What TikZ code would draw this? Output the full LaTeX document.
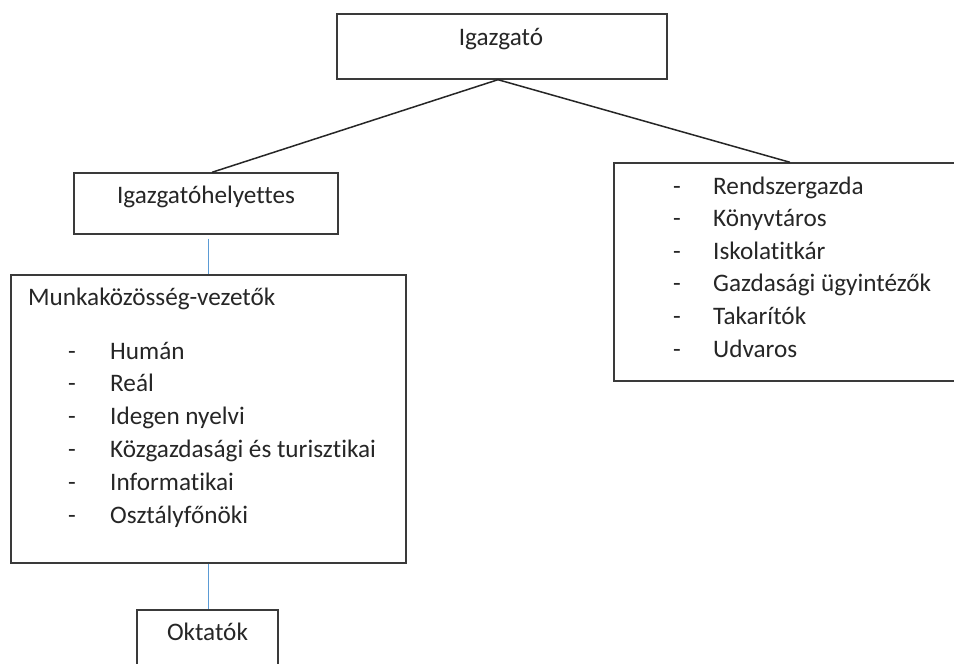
\documentclass[tikz,border=0pt]{standalone}
\usepackage{fontspec}
\setmainfont[Ligatures=NoCommon]{Carlito}
\definecolor{txt}{HTML}{262626}
\definecolor{edge}{HTML}{3A3A3A}
\definecolor{bluelink}{HTML}{5B9BD5}
\begin{document}
\begin{tikzpicture}[x=1pt,y=-1pt,
  box/.style={draw=edge,line width=1.4pt,rectangle,inner sep=0pt,fill=none},
  lbl/.style={inner sep=0pt,anchor=base,text=txt,font=\fontsize{25.2}{30}\selectfont},
  lblw/.style={lbl,anchor=base west},
  blk/.style={draw=black!85,line width=1.5pt},
  blu/.style={draw=bluelink,line width=1pt}]
\useasboundingbox (0,0) rectangle (954,664);
\fill[white] (0,0) rectangle (954,664);
% boxes
\node[box,minimum width=330pt,minimum height=65pt] (igaz) at (502,46.5) {};
\node[box,minimum width=264pt,minimum height=61pt] (hely) at (206,203.5) {};
\node[box,minimum width=395pt,minimum height=288pt] (munka) at (208.5,419) {};
\node[box,minimum width=141pt,minimum height=90pt] (okt) at (207.5,655) {};
\node[box,minimum width=356pt,minimum height=218pt] (right) at (792,272) {};
% texts
\node[lbl] (tigaz) at (501,45) {Igazgató};
\node[lbl] (thely) at (206,203) {Igazgatóhelyettes};
\node[lbl] (tokt) at (207.5,640) {Oktatók};
\node[lblw] (tmunka) at (28,305) {Munkaközösség-vezetők};
\foreach \t [count=\i] in {Humán,Reál,Idegen nyelvi,Közgazdasági és turisztikai,Informatikai,Osztályfőnöki}{
  \node[lbl] (ld\i) at (72,{359+32.8*(\i-1)}) {-};
  \node[lblw] (lt\i) at (110,{359+32.8*(\i-1)}) {\t};
}
\foreach \t [count=\i] in {Rendszergazda,Könyvtáros,Iskolatitkár,Gazdasági ügyintézők,Takarítók,Udvaros}{
  \node[lbl] (rd\i) at (677,{194+32.6*(\i-1)}) {-};
  \node[lblw] (rt\i) at (713,{194+32.6*(\i-1)}) {\t};
}
% connectors
\draw[blk] ([xshift=-4pt]igaz.south) -- ([xshift=6pt]hely.north);
\draw[blk] ([xshift=-4pt]igaz.south) -- ([xshift=-2pt]right.north);
\draw[blu] ([yshift=-4pt]hely.south -| munka.north) -- (munka.north);
\draw[blu] (munka.south) -- (okt.north -| munka.south);
\end{tikzpicture}
\end{document}
